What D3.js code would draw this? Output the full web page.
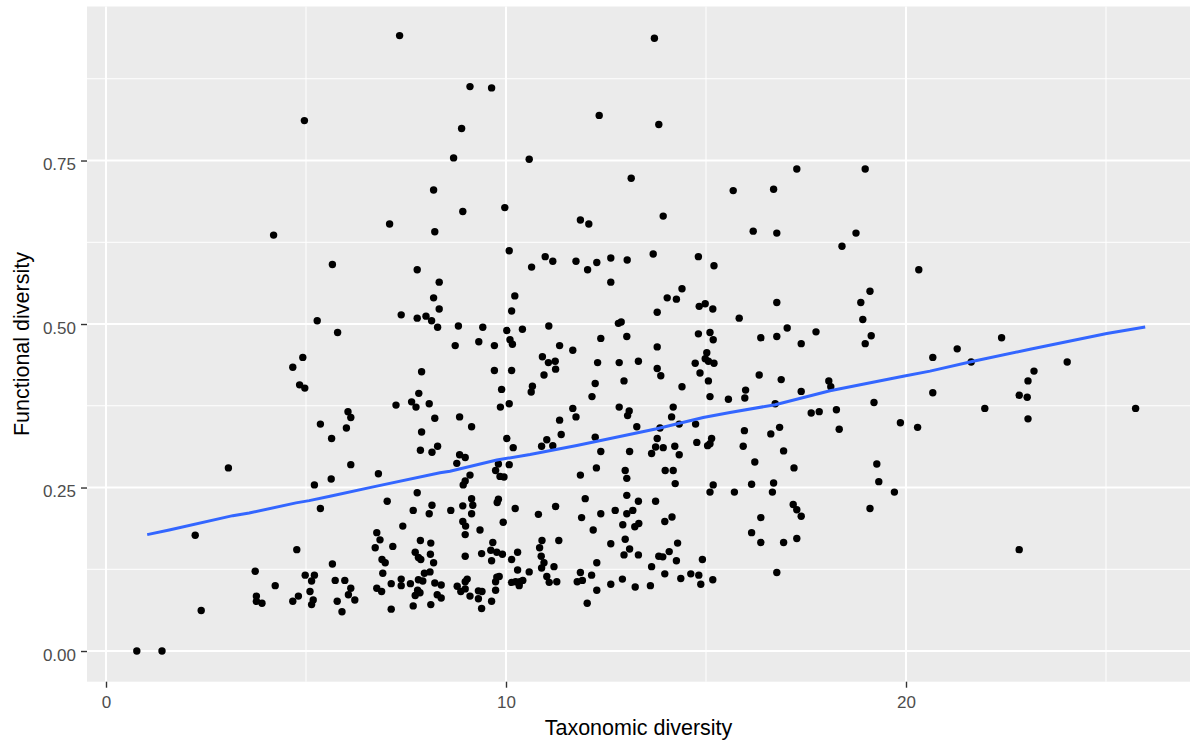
<!DOCTYPE html>
<html>
<head>
<meta charset="utf-8">
<script src="https://cdn.jsdelivr.net/npm/d3@7"></script>
<style>
  body { margin: 0; background: #fff; }
  text { font-family: "Liberation Sans", Arial, sans-serif; }
</style>
</head>
<body>
<svg width="1192" height="744"></svg>
<script>
// Taxonomic diversity (x) of each site
const taxDiv = [
  4.96,4.19,5.66,5.28,4.92,4.67,4.84,4.97,
  5.36,5.64,3.06,5.63,5.21,5.36,2.23,4.77,5.66,3.73,4.98,5.21,5.14,4.23,3.76,4.81,5.10,3.76,3.90,4.67,5.18,5.14,2.38,0.77,1.40,
  7.34,9.10,9.64,8.89,8.69,10.58,8.19,8.92,9.97,7.09,8.22,10.08,10.64,7.78,8.33,8.19,10.22,8.33,10.14,7.38,7.78,8.00,8.14,8.29,8.81,9.42,10.41,5.79,
  10.02,10.10,10.16,8.73,9.32,9.71,7.89,9.71,10.14,7.82,9.89,7.64,7.75,7.25,8.08,9.86,10.08,6.05,6.12,6.01,8.22,8.84,9.14,7.89,10.02,10.18,7.86,8.15,8.29,8.84,8.98,8.77,6.12,6.81,9.81,10.08,9.74,9.85,9.95,9.10,8.98,8.93,7.78,7.03,9.14,9.81,9.78,8.15,9.17,8.92,7.68,8.62,8.08,9.14,10.23,
  8.92,8.99,9.93,7.42,8.98,9.35,6.77,6.85,6.73,7.17,7.86,8.12,9.67,7.73,7.81,7.87,8.11,8.19,6.90,6.98,8.98,9.39,9.62,9.77,9.91,9.64,10.14,10.29,10.29,10.58,6.92,5.73,5.97,6.12,6.06,6.22,5.78,5.90,6.77,6.89,7.13,7.38,7.38,7.61,7.81,7.96,8.10,7.92,7.79,7.85,7.73,8.22,8.38,8.28,8.38,7.13,7.68,8.12,8.78,8.87,8.98,9.03,8.98,9.10,9.31,9.40,9.31,9.39,9.64,9.74,9.74,9.77,9.83,10.14,10.24,10.35,10.33,10.42,
  13.71,12.33,13.82,13.13,11.86,12.07,13.93,10.98,11.17,11.75,12.04,12.27,12.62,13.03,13.68,14.81,15.20,12.62,14.40,14.03,14.26,13.78,14.83,14.98,15.17,11.07,12.81,12.88,
  12.37,13.02,14.81,15.10,15.18,11.34,11.67,13.78,10.91,11.06,11.23,11.24,10.95,12.29,12.83,13.31,13.78,13.87,14.73,15.02,14.98,15.06,15.20,14.85,15.06,15.10,15.56,12.95,12.23,12.15,14.40,10.66,10.63,11.67,12.83,13.08,13.04,14.18,14.14,11.34,11.75,13.27,13.85,14.33,14.74,11.38,11.02,10.89,11.17,12.23,13.78,15.14,15.10,14.77,15.04,13.74,13.93,13.64,14.22,14.33,12.37,13.09,12.26,11.86,12.98,13.02,13.98,14.18,14.23,15.18,15.10,13.02,11.98,13.31,13.74,11.24,10.81,11.89,12.37,12.73,13.02,13.17,
  12.92,13.22,13.32,13.97,14.15,12.18,10.90,11.32,10.84,12.62,12.98,13.09,12.95,13.31,14.29,14.08,13.82,13.92,14.26,14.91,10.88,10.95,10.89,11.20,12.27,13.64,11.02,11.08,11.27,11.86,11.78,11.91,12.14,12.27,12.62,12.91,12.03,13.23,13.61,13.97,14.37,14.62,14.82,14.87,15.17,
  17.27,18.98,15.68,16.69,16.18,16.77,18.75,18.40,20.32,19.10,18.87,16.77,15.83,18.92,17.03,17.75,16.37,16.77,17.38,18.98,19.13,20.67,16.33,16.88,18.07,18.12,15.99,15.97,17.38,16.73,19.20,20.67,17.63,17.83,18.26,16.84,18.33,15.96,16.62,19.86,20.29,15.93,16.94,16.22,17.20,19.27,19.32,15.71,16.14,16.69,16.66,19.71,17.18,17.27,17.38,19.10,16.37,16.14,16.37,16.94,17.27,16.77,
  21.28,22.39,21.63,21.97,23.20,23.05,22.83,23.03,23.05,24.03,22.83,25.74
]

// Functional diversity (y), same order as taxDiv
const funDiv = [
  0.811,0.636,0.591,0.505,0.449,0.434,0.407,0.402,
  0.347,0.325,0.280,0.263,0.254,0.218,0.177,0.155,0.133,0.122,0.116,0.116,0.107,0.100,0.084,0.084,0.091,0.076,0.073,0.076,0.078,0.071,0.062,0,0,
  0.941,0.863,0.861,0.799,0.754,0.752,0.705,0.672,0.678,0.653,0.641,0.612,0.587,0.583,0.564,0.540,0.543,0.523,0.520,0.514,0.509,0.512,0.505,0.495,0.497,0.495,0.492,0.487,
  0.490,0.476,0.469,0.467,0.473,0.467,0.427,0.429,0.429,0.394,0.400,0.381,0.373,0.376,0.378,0.373,0.378,0.366,0.357,0.341,0.356,0.358,0.343,0.335,0.325,0.311,0.307,0.304,0.313,0.300,0.296,0.287,0.285,0.271,0.286,0.285,0.276,0.267,0.266,0.269,0.260,0.254,0.242,0.229,0.233,0.232,0.227,0.223,0.223,0.222,0.215,0.215,0.210,0.210,0.218,
  0.198,0.191,0.197,0.191,0.178,0.185,0.181,0.170,0.158,0.160,0.169,0.165,0.166,0.151,0.143,0.140,0.148,0.135,0.140,0.135,0.145,0.149,0.154,0.151,0.148,0.138,0.140,0.151,0.124,0.121,0.119,0.108,0.108,0.096,0.086,0.078,0.076,0.060,0.096,0.091,0.103,0.110,0.100,0.103,0.109,0.119,0.121,0.107,0.093,0.089,0.085,0.104,0.101,0.086,0.081,0.064,0.069,0.071,0.099,0.091,0.106,0.110,0.095,0.084,0.092,0.091,0.080,0.065,0.076,0.093,0.106,0.113,0.114,0.105,0.106,0.106,0.100,0.108,
  0.937,0.819,0.805,0.723,0.659,0.653,0.665,0.603,0.596,0.596,0.583,0.594,0.601,0.598,0.607,0.603,0.589,0.564,0.554,0.540,0.538,0.518,0.527,0.531,0.523,0.497,0.501,0.503,
  0.478,0.481,0.485,0.487,0.476,0.467,0.460,0.465,0.450,0.441,0.443,0.431,0.422,0.441,0.441,0.443,0.432,0.421,0.440,0.456,0.447,0.443,0.440,0.425,0.413,0.389,0.385,0.413,0.409,0.389,0.404,0.405,0.396,0.371,0.373,0.367,0.360,0.373,0.358,0.353,0.358,0.343,0.341,0.347,0.347,0.331,0.323,0.313,0.314,0.327,0.325,0.325,0.317,0.319,0.314,0.312,0.311,0.302,0.313,0.300,0.305,0.305,0.280,0.269,0.276,0.264,0.276,0.276,0.256,0.254,0.243,0.238,0.233,0.229,0.229,0.221,0.209,0.204,0.210,0.215,0.210,0.215,
  0.193,0.190,0.195,0.198,0.205,0.185,0.169,0.169,0.158,0.164,0.171,0.156,0.147,0.147,0.165,0.152,0.145,0.144,0.138,0.140,0.145,0.135,0.127,0.129,0.135,0.129,0.114,0.105,0.106,0.120,0.106,0.108,0.116,0.093,0.102,0.110,0.073,0.098,0.100,0.118,0.111,0.118,0.116,0.102,0.109,
  0.737,0.737,0.704,0.706,0.642,0.639,0.639,0.619,0.583,0.550,0.533,0.533,0.509,0.507,0.494,0.488,0.479,0.481,0.470,0.470,0.482,0.449,0.422,0.415,0.413,0.404,0.399,0.387,0.397,0.378,0.380,0.395,0.364,0.366,0.369,0.342,0.339,0.337,0.332,0.349,0.342,0.313,0.306,0.289,0.280,0.286,0.259,0.243,0.255,0.257,0.243,0.243,0.224,0.216,0.206,0.218,0.204,0.181,0.166,0.166,0.172,0.120,
  0.462,0.479,0.442,0.371,0.428,0.413,0.391,0.388,0.355,0.442,0.155,0.371
]

// Smoothed trend (blue line) read at points along the curve
const smoothX = [1.03,1.58,3.17,3.58,4.75,5.08,5.6,6.68,8.35,8.6,9.77,10.6,11.77,13.77,14.93,15.6,16.73,18.1,19.93,20.6,21.68,23.1,25.02,25.98]
const smoothY = [0.178,0.185,0.207,0.211,0.2265,0.23,0.2367,0.251,0.2725,0.275,0.292,0.3006,0.3144,0.340,0.357,0.3646,0.3767,0.398,0.420,0.428,0.443,0.4615,0.4854,0.4955]

// Axis ticks
const xTicks = [0, 10, 20]
const xMinor = [5, 15, 25]
const yTicks = [0, 0.25, 0.5, 0.75]
const yMinor = [0.125, 0.375, 0.625, 0.875]

const panel = { left: 87, right: 1190, top: 6.5, bottom: 681.7 }

const x = d3.scaleLinear().domain([-0.475, 27.1]).range([panel.left, panel.right])
const y = d3.scaleLinear().domain([-0.0469, 0.9855]).range([panel.bottom, panel.top])

const svg = d3.select('svg')

// grey panel
svg.append('rect')
  .attr('x', panel.left).attr('y', panel.top)
  .attr('width', panel.right - panel.left).attr('height', panel.bottom - panel.top)
  .attr('fill', '#EBEBEB')

const grid = svg.append('g')

// minor grid first, then major on top
grid.selectAll('.vminor').data(xMinor).enter().append('line')
  .attr('x1', d => x(d)).attr('x2', d => x(d))
  .attr('y1', panel.top).attr('y2', panel.bottom)
  .attr('stroke', '#fff').attr('stroke-width', 1)
grid.selectAll('.hminor').data(yMinor).enter().append('line')
  .attr('y1', d => y(d)).attr('y2', d => y(d))
  .attr('x1', panel.left).attr('x2', panel.right)
  .attr('stroke', '#fff').attr('stroke-width', 1)
grid.selectAll('.vmajor').data(xTicks).enter().append('line')
  .attr('x1', d => x(d)).attr('x2', d => x(d))
  .attr('y1', panel.top).attr('y2', panel.bottom)
  .attr('stroke', '#fff').attr('stroke-width', 2)
grid.selectAll('.hmajor').data(yTicks).enter().append('line')
  .attr('y1', d => y(d)).attr('y2', d => y(d))
  .attr('x1', panel.left).attr('x2', panel.right)
  .attr('stroke', '#fff').attr('stroke-width', 2)

// points
const points = taxDiv.map((d, i) => ({ tx: d, fd: funDiv[i] }))
svg.append('g').selectAll('circle')
  .data(points)
  .enter().append('circle')
    .attr('cx', d => x(d.tx))
    .attr('cy', d => y(d.fd))
    .attr('r', 3.7)
    .attr('fill', '#000')

// smooth line
const smooth = smoothX.map((d, i) => [d, smoothY[i]])
svg.append('path')
  .datum(smooth)
  .attr('d', d3.line().x(d => x(d[0])).y(d => y(d[1])))
  .attr('fill', 'none')
  .attr('stroke', '#3366FF')
  .attr('stroke-width', 3)

// axes
const xAxis = d3.axisBottom(x).tickValues(xTicks).tickFormat(d3.format('d')).tickSize(6).tickPadding(8)
const yAxis = d3.axisLeft(y).tickValues(yTicks).tickFormat(d3.format('.2f')).tickSize(6).tickPadding(5)

const gx = svg.append('g').attr('transform', `translate(0,${panel.bottom})`).call(xAxis)
const gy = svg.append('g').attr('transform', `translate(${panel.left},0)`).call(yAxis)

;[gx, gy].forEach(g => {
  g.select('.domain').remove()
  g.selectAll('.tick line').attr('stroke', '#333333').attr('stroke-width', 1.4)
  g.selectAll('.tick text')
    .attr('fill', '#4D4D4D')
    .style('font-size', '17px')
})
// ggplot sits the y labels a little lower than d3 does
gy.selectAll('.tick text').attr('dy', '0.53em')

// axis titles
svg.append('text')
  .attr('x', (panel.left + panel.right) / 2)
  .attr('y', 735)
  .attr('text-anchor', 'middle')
  .style('font-size', '21.5px')
  .attr('fill', '#000')
  .text('Taxonomic diversity')

svg.append('text')
  .attr('transform', `translate(28.5,${(panel.top + panel.bottom) / 2}) rotate(-90)`)
  .attr('text-anchor', 'middle')
  .style('font-size', '21.5px')
  .attr('fill', '#000')
  .text('Functional diversity')
</script>
</body>
</html>
